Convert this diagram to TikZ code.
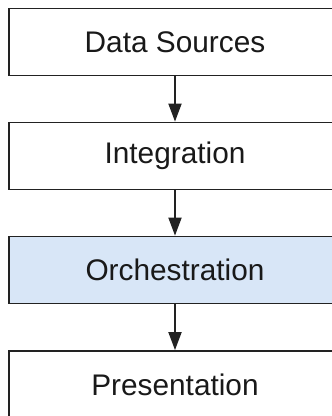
\documentclass[tikz,border=0pt]{standalone}
\usepackage{fontspec}
\setmainfont{Liberation Sans}
\usetikzlibrary{arrows.meta}
\definecolor{boxline}{HTML}{222222}
\definecolor{hlfill}{HTML}{D8E6F7}
\begin{document}
\begin{tikzpicture}[x=1bp,y=-1bp,
  layer/.style={draw=boxline,line width=1.8bp,fill=white,minimum width=332bp,minimum height=67bp,
    inner sep=0pt,font=\fontsize{29.8bp}{35bp}\selectfont,text=black!90},
  flow/.style={draw=boxline,line width=1.8bp,-{Triangle[length=18bp,width=13bp]}}]
\useasboundingbox (0,0) rectangle (332,416);
\clip (0,0) rectangle (332,416);
\node[layer] (ds) at (175,42) {Data Sources};
\node[layer] (int) at (175,156) {Integration};
\node[layer,fill=hlfill] (orc) at (175,270) {Orchestration};
\node[layer] (pres) at (175,384.5) {Presentation};
\draw[flow] (ds) -- (int);
\draw[flow] (int) -- (orc);
\draw[flow] (orc) -- (pres);
\end{tikzpicture}
\end{document}
